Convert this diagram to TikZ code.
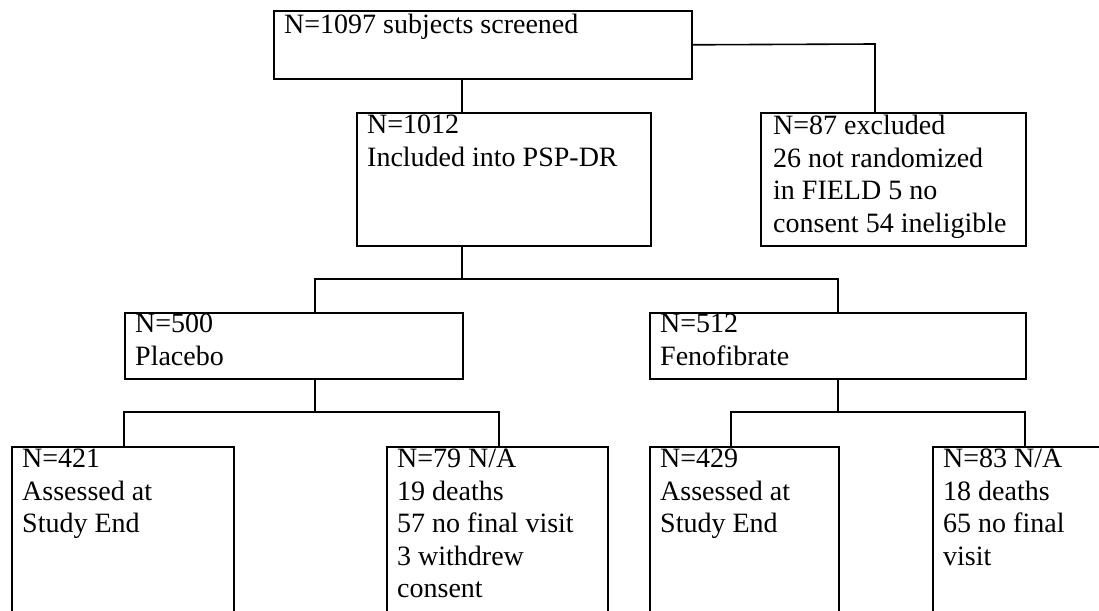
\documentclass[tikz,border=0pt]{standalone}
\usepackage{fontspec}
\setmainfont{Liberation Serif}
\usepackage{tikz}

\begin{document}
\begin{tikzpicture}[x=1pt,y=-1pt,
  boite/.style={draw, line width=1.6pt, inner sep=0pt, anchor=north west},
  texte/.style={anchor=north west, align=left, inner sep=0pt, font=\fontsize{28}{32.5}\selectfont}]
\useasboundingbox (0,0) rectangle (1099,610);
\clip (0,0) rectangle (1099,610);

\node [boite, minimum width=418pt, minimum height=68pt] (crible) at (273,10) {};
\node [boite, minimum width=294pt, minimum height=133pt] (inclus) at (356,112) {};
\node [boite, minimum width=265pt, minimum height=133pt] (exclus) at (760,112) {};
\node [boite, minimum width=338pt, minimum height=66pt] (placebo) at (124,312) {};
\node [boite, minimum width=376pt, minimum height=66pt] (feno) at (649,312) {};
\node [boite, minimum width=222pt, minimum height=200pt] (plaeval) at (11,446) {};
\node [boite, minimum width=221pt, minimum height=200pt] (plana) at (386,446) {};
\node [boite, minimum width=189pt, minimum height=200pt] (feneval) at (649,446) {};
\node [boite, minimum width=200pt, minimum height=200pt] (fenna) at (932,446) {};

\node [texte] (crible-t) at ([xshift=11pt,yshift=-4pt]crible.north west) {N=1097 subjects screened};
\node [texte] (inclus-t) at ([xshift=11pt,yshift=-3pt]inclus.north west) {N=1012\\Included into PSP-DR};
\node [texte] (exclus-t) at ([xshift=13pt,yshift=-3pt]exclus.north west) {N=87 excluded\\26 not randomized\\in FIELD 5 no\\consent 54 ineligible};
\node [texte] (placebo-t) at ([xshift=11pt,yshift=-2pt]placebo.north west) {N=500\\Placebo};
\node [texte] (feno-t) at ([xshift=11pt,yshift=-2pt]feno.north west) {N=512\\Fenofibrate};
\node [texte] (plaeval-t) at ([xshift=11pt,yshift=-3pt]plaeval.north west) {N=421\\Assessed at\\Study End};
\node [texte] (plana-t) at ([xshift=11pt,yshift=-3pt]plana.north west) {N=79 N/A\\19 deaths\\57 no final visit\\3 withdrew\\consent};
\node [texte] (feneval-t) at ([xshift=11pt,yshift=-3pt]feneval.north west) {N=429\\Assessed at\\Study End};
\node [texte] (fenna-t) at ([xshift=11pt,yshift=-3pt]fenna.north west) {N=83 N/A\\18 deaths\\65 no final\\visit};

\coordinate (c1) at (462,279);
\coordinate (c2) at (875,44);
\coordinate (g1) at (315,279);
\coordinate (d1) at (838,279);
\coordinate (g2) at (124,412);
\coordinate (m2) at (315,412);
\coordinate (d2) at (499,412);
\coordinate (g3) at (731,412);
\coordinate (m3) at (838,412);
\coordinate (d3) at (1025,412);

\draw [line width=1.6pt] (crible.south -| c1) -- (inclus.north -| c1);
\draw [line width=1.6pt] (crible.east) -- (c2) -- (exclus.north -| c2);
\draw [line width=1.6pt] (inclus.south -| c1) -- (c1);
\draw [line width=1.6pt] (placebo.north -| g1) -- (g1) -- (d1) -- (feno.north -| d1);
\draw [line width=1.6pt] (placebo.south -| m2) -- (m2);
\draw [line width=1.6pt] (plaeval.north -| g2) -- (g2) -- (d2) -- (plana.north -| d2);
\draw [line width=1.6pt] (feno.south -| m3) -- (m3);
\draw [line width=1.6pt] (feneval.north -| g3) -- (g3) -- (d3) -- (fenna.north -| d3);

\end{tikzpicture}
\end{document}
